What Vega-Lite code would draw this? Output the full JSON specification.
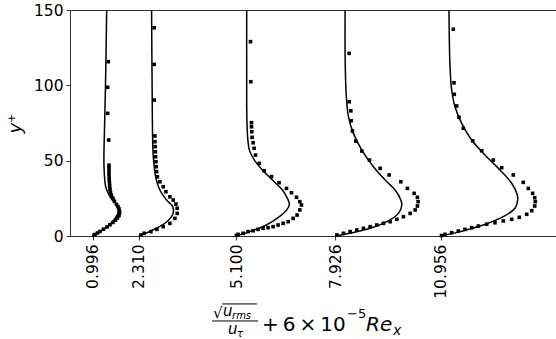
{
  "$schema": "https://vega.github.io/schema/vega-lite/v6.json",
  "width": 487,
  "height": 226,
  "autosize": {"type": "none"},
  "padding": {"left": 70, "top": 10, "right": 0, "bottom": 103},
  "background": "white",
  "config": {
    "font": "DejaVu Sans",
    "view": {"stroke": "#333", "strokeWidth": 1},
    "axis": {
      "domain": false,
      "grid": false,
      "tickColor": "#333",
      "tickSize": 4,
      "labelColor": "black",
      "labelFontSize": 15.5,
      "labelFont": "DejaVu Sans",
      "titleFont": "DejaVu Sans",
      "titleColor": "black"
    }
  },
  "datasets": {
    "model": [
      {"s": "1", "y": 0, "x": 0.996}, {"s": "1", "y": 5.1, "x": 1.339}, {"s": "1", "y": 11.7, "x": 1.626}, {"s": "1", "y": 16.1, "x": 1.72}, {"s": "1", "y": 20.6, "x": 1.674}, {"s": "1", "y": 24.4, "x": 1.531}, {"s": "1", "y": 28.3, "x": 1.434}, {"s": "1", "y": 32.7, "x": 1.359}, {"s": "1", "y": 46, "x": 1.311}, {"s": "1", "y": 57, "x": 1.311}, {"s": "1", "y": 100, "x": 1.354}, {"s": "1", "y": 150, "x": 1.388},
      {"s": "2", "y": 0, "x": 2.31}, {"s": "2", "y": 4, "x": 2.71}, {"s": "2", "y": 9.5, "x": 3.11}, {"s": "2", "y": 15, "x": 3.29}, {"s": "2", "y": 19.4, "x": 3.28}, {"s": "2", "y": 23.9, "x": 3.103}, {"s": "2", "y": 30.5, "x": 2.911}, {"s": "2", "y": 39.4, "x": 2.788}, {"s": "2", "y": 48, "x": 2.739}, {"s": "2", "y": 57, "x": 2.711}, {"s": "2", "y": 100, "x": 2.688}, {"s": "2", "y": 150, "x": 2.673},
      {"s": "3", "y": 0, "x": 5.1}, {"s": "3", "y": 2.9, "x": 5.472}, {"s": "3", "y": 7.3, "x": 5.959}, {"s": "3", "y": 12.8, "x": 6.331}, {"s": "3", "y": 17, "x": 6.531}, {"s": "3", "y": 21, "x": 6.617}, {"s": "3", "y": 25, "x": 6.56}, {"s": "3", "y": 30.5, "x": 6.417}, {"s": "3", "y": 37.2, "x": 6.13}, {"s": "3", "y": 43.8, "x": 5.844}, {"s": "3", "y": 50.4, "x": 5.615}, {"s": "3", "y": 57, "x": 5.472}, {"s": "3", "y": 63.7, "x": 5.429}, {"s": "3", "y": 77, "x": 5.401}, {"s": "3", "y": 101, "x": 5.395}, {"s": "3", "y": 150, "x": 5.395},
      {"s": "4", "y": 0, "x": 7.926}, {"s": "4", "y": 1.8, "x": 8.355}, {"s": "4", "y": 5.1, "x": 8.928}, {"s": "4", "y": 9.5, "x": 9.406}, {"s": "4", "y": 15, "x": 9.738}, {"s": "4", "y": 20.6, "x": 9.835}, {"s": "4", "y": 23.9, "x": 9.806}, {"s": "4", "y": 30.5, "x": 9.643}, {"s": "4", "y": 37.2, "x": 9.357}, {"s": "4", "y": 46, "x": 9.022}, {"s": "4", "y": 57, "x": 8.69}, {"s": "4", "y": 68.1, "x": 8.45}, {"s": "4", "y": 79.2, "x": 8.307}, {"s": "4", "y": 94.7, "x": 8.241}, {"s": "4", "y": 120, "x": 8.212}, {"s": "4", "y": 150, "x": 8.212},
      {"s": "5", "y": 0, "x": 10.956}, {"s": "5", "y": 2.9, "x": 11.5}, {"s": "5", "y": 7.3, "x": 12.166}, {"s": "5", "y": 12.8, "x": 12.739}, {"s": "5", "y": 18.4, "x": 13.074}, {"s": "5", "y": 23.9, "x": 13.151}, {"s": "5", "y": 27.2, "x": 13.14}, {"s": "5", "y": 35, "x": 12.979}, {"s": "5", "y": 43.8, "x": 12.645}, {"s": "5", "y": 53.7, "x": 12.215}, {"s": "5", "y": 63.7, "x": 11.835}, {"s": "5", "y": 74.8, "x": 11.548}, {"s": "5", "y": 85.8, "x": 11.357}, {"s": "5", "y": 96.9, "x": 11.262}, {"s": "5", "y": 112.3, "x": 11.214}, {"s": "5", "y": 150, "x": 11.185}
    ],
    "measured": [
      {"s": "1", "y": 115.7, "x": 1.434}, {"s": "1", "y": 98.7, "x": 1.417}, {"s": "1", "y": 81.4, "x": 1.417}, {"s": "1", "y": 63.7, "x": 1.445}, {"s": "1", "y": 47, "x": 1.454}, {"s": "1", "y": 45, "x": 1.454}, {"s": "1", "y": 43, "x": 1.454}, {"s": "1", "y": 41, "x": 1.454}, {"s": "1", "y": 39, "x": 1.46}, {"s": "1", "y": 37, "x": 1.462}, {"s": "1", "y": 35, "x": 1.468}, {"s": "1", "y": 33, "x": 1.474}, {"s": "1", "y": 31, "x": 1.483}, {"s": "1", "y": 29, "x": 1.497}, {"s": "1", "y": 27, "x": 1.525}, {"s": "1", "y": 25, "x": 1.568}, {"s": "1", "y": 23, "x": 1.611}, {"s": "1", "y": 21, "x": 1.669}, {"s": "1", "y": 19.5, "x": 1.712}, {"s": "1", "y": 18, "x": 1.74}, {"s": "1", "y": 16.5, "x": 1.754}, {"s": "1", "y": 15, "x": 1.754}, {"s": "1", "y": 13.5, "x": 1.74}, {"s": "1", "y": 12, "x": 1.697}, {"s": "1", "y": 10.5, "x": 1.64}, {"s": "1", "y": 9, "x": 1.568}, {"s": "1", "y": 7.5, "x": 1.483}, {"s": "1", "y": 6, "x": 1.397}, {"s": "1", "y": 4.5, "x": 1.297}, {"s": "1", "y": 3, "x": 1.196}, {"s": "1", "y": 2, "x": 1.125}, {"s": "1", "y": 1, "x": 1.053}, {"s": "1", "y": 0.5, "x": 1.025},
      {"s": "2", "y": 138.2, "x": 2.748}, {"s": "2", "y": 113.9, "x": 2.748}, {"s": "2", "y": 90.2, "x": 2.748}, {"s": "2", "y": 66.4, "x": 2.768}, {"s": "2", "y": 62.6, "x": 2.768}, {"s": "2", "y": 59.3, "x": 2.777}, {"s": "2", "y": 55.9, "x": 2.782}, {"s": "2", "y": 52.6, "x": 2.788}, {"s": "2", "y": 49.3, "x": 2.797}, {"s": "2", "y": 46, "x": 2.805}, {"s": "2", "y": 42.7, "x": 2.817}, {"s": "2", "y": 39.3, "x": 2.839}, {"s": "2", "y": 36, "x": 2.911}, {"s": "2", "y": 32.7, "x": 3.005}, {"s": "2", "y": 29.4, "x": 3.083}, {"s": "2", "y": 26, "x": 3.197}, {"s": "2", "y": 23.9, "x": 3.292}, {"s": "2", "y": 21.2, "x": 3.369}, {"s": "2", "y": 18.4, "x": 3.406}, {"s": "2", "y": 15, "x": 3.406}, {"s": "2", "y": 11.7, "x": 3.34}, {"s": "2", "y": 8.4, "x": 3.197}, {"s": "2", "y": 6.2, "x": 3.005}, {"s": "2", "y": 4.4, "x": 2.825}, {"s": "2", "y": 2.9, "x": 2.653}, {"s": "2", "y": 1.8, "x": 2.462}, {"s": "2", "y": 0.7, "x": 2.367},
      {"s": "3", "y": 129, "x": 5.504}, {"s": "3", "y": 102.4, "x": 5.512}, {"s": "3", "y": 75.2, "x": 5.532}, {"s": "3", "y": 72.5, "x": 5.532}, {"s": "3", "y": 69.2, "x": 5.541}, {"s": "3", "y": 65.5, "x": 5.549}, {"s": "3", "y": 61.9, "x": 5.578}, {"s": "3", "y": 58.2, "x": 5.607}, {"s": "3", "y": 53.7, "x": 5.647}, {"s": "3", "y": 48.2, "x": 5.75}, {"s": "3", "y": 43.3, "x": 5.893}, {"s": "3", "y": 39.4, "x": 6.105}, {"s": "3", "y": 35.4, "x": 6.322}, {"s": "3", "y": 31.6, "x": 6.534}, {"s": "3", "y": 28.7, "x": 6.677}, {"s": "3", "y": 25.7, "x": 6.82}, {"s": "3", "y": 22.8, "x": 6.915}, {"s": "3", "y": 20.6, "x": 6.963}, {"s": "3", "y": 17.3, "x": 6.915}, {"s": "3", "y": 13.9, "x": 6.837}, {"s": "3", "y": 11.7, "x": 6.723}, {"s": "3", "y": 9.5, "x": 6.58}, {"s": "3", "y": 8.4, "x": 6.437}, {"s": "3", "y": 7.3, "x": 6.293}, {"s": "3", "y": 6.2, "x": 6.15}, {"s": "3", "y": 5.5, "x": 6.007}, {"s": "3", "y": 5.1, "x": 5.864}, {"s": "3", "y": 4.4, "x": 5.721}, {"s": "3", "y": 3.5, "x": 5.578}, {"s": "3", "y": 2.9, "x": 5.435}, {"s": "3", "y": 1.8, "x": 5.292}, {"s": "3", "y": 1.1, "x": 5.149}, {"s": "3", "y": 0.4, "x": 5.1},
      {"s": "4", "y": 121.2, "x": 8.327}, {"s": "4", "y": 89.1, "x": 8.327}, {"s": "4", "y": 83.1, "x": 8.375}, {"s": "4", "y": 76.5, "x": 8.384}, {"s": "4", "y": 69.7, "x": 8.421}, {"s": "4", "y": 63, "x": 8.518}, {"s": "4", "y": 56.4, "x": 8.69}, {"s": "4", "y": 50.4, "x": 8.908}, {"s": "4", "y": 44.9, "x": 9.214}, {"s": "4", "y": 40.5, "x": 9.471}, {"s": "4", "y": 36, "x": 9.806}, {"s": "4", "y": 31.6, "x": 9.995}, {"s": "4", "y": 28.3, "x": 10.187}, {"s": "4", "y": 25.7, "x": 10.281}, {"s": "4", "y": 22.8, "x": 10.301}, {"s": "4", "y": 19.9, "x": 10.281}, {"s": "4", "y": 17.3, "x": 10.216}, {"s": "4", "y": 15, "x": 10.073}, {"s": "4", "y": 12.8, "x": 9.881}, {"s": "4", "y": 11.1, "x": 9.692}, {"s": "4", "y": 9.5, "x": 9.5}, {"s": "4", "y": 8.4, "x": 9.308}, {"s": "4", "y": 7.3, "x": 9.119}, {"s": "4", "y": 6.2, "x": 8.928}, {"s": "4", "y": 5.1, "x": 8.736}, {"s": "4", "y": 4, "x": 8.547}, {"s": "4", "y": 2.9, "x": 8.355}, {"s": "4", "y": 1.8, "x": 8.164}, {"s": "4", "y": 0.7, "x": 7.975},
      {"s": "5", "y": 137.2, "x": 11.308}, {"s": "5", "y": 101.7, "x": 11.328}, {"s": "5", "y": 94, "x": 11.337}, {"s": "5", "y": 86.3, "x": 11.405}, {"s": "5", "y": 78.8, "x": 11.471}, {"s": "5", "y": 71.5, "x": 11.594}, {"s": "5", "y": 63.2, "x": 11.863}, {"s": "5", "y": 56.6, "x": 12.121}, {"s": "5", "y": 50.4, "x": 12.453}, {"s": "5", "y": 45.3, "x": 12.693}, {"s": "5", "y": 40.5, "x": 13.025}, {"s": "5", "y": 35.6, "x": 13.311}, {"s": "5", "y": 31.6, "x": 13.455}, {"s": "5", "y": 28.3, "x": 13.58}, {"s": "5", "y": 25.4, "x": 13.638}, {"s": "5", "y": 22.8, "x": 13.655}, {"s": "5", "y": 19.9, "x": 13.638}, {"s": "5", "y": 16.8, "x": 13.552}, {"s": "5", "y": 14.4, "x": 13.409}, {"s": "5", "y": 12.4, "x": 13.197}, {"s": "5", "y": 11.1, "x": 12.979}, {"s": "5", "y": 10, "x": 12.739}, {"s": "5", "y": 8.8, "x": 12.501}, {"s": "5", "y": 7.8, "x": 12.264}, {"s": "5", "y": 6.6, "x": 12.024}, {"s": "5", "y": 5.5, "x": 11.835}, {"s": "5", "y": 4.4, "x": 11.643}, {"s": "5", "y": 3.3, "x": 11.451}, {"s": "5", "y": 2.2, "x": 11.262}, {"s": "5", "y": 1.1, "x": 11.07}, {"s": "5", "y": 0.3, "x": 10.97}
    ],
    "one": [{}]
  },
  "layer": [
    {
      "data": {"name": "model"},
      "mark": {"type": "line", "color": "black", "strokeWidth": 1.5, "interpolate": "catmull-rom"},
      "encoding": {
        "x": {
          "field": "x", "type": "quantitative",
          "scale": {"domain": [0.338, 14.276], "nice": false, "zero": false},
          "axis": {
            "values": [0.996, 2.31, 5.1, 7.926, 10.956],
            "format": ".3f",
            "labelAngle": -90,
            "labelPadding": 4,
            "title": null
          }
        },
        "y": {
          "field": "y", "type": "quantitative",
          "scale": {"domain": [0, 150], "nice": false},
          "axis": {
            "values": [0, 50, 100, 150],
            "labelPadding": 3,
            "title": "y⁺",
            "titleFontSize": 18,
            "titleFontWeight": "normal",
            "titleFontStyle": "italic",
            "titlePadding": 9
          }
        },
        "detail": {"field": "s"},
        "order": {"field": "y", "type": "quantitative"}
      }
    },
    {
      "data": {"name": "measured"},
      "mark": {"type": "square", "color": "black", "filled": true, "opacity": 1, "size": 13},
      "encoding": {
        "x": {"field": "x", "type": "quantitative"},
        "y": {"field": "y", "type": "quantitative"}
      }
    },
    {
      "data": {"name": "one"},
      "mark": {"type": "text", "text": "√", "fontSize": 15, "align": "left", "baseline": "alphabetic", "color": "black"},
      "encoding": {"x": {"datum": 4.431}, "y": {"datum": -54.4}}
    },
    {
      "data": {"name": "one"},
      "mark": {"type": "rule", "color": "black", "strokeWidth": 1},
      "encoding": {"x": {"datum": 4.69}, "x2": {"datum": 5.69}, "y": {"datum": -45.1}}
    },
    {
      "data": {"name": "one"},
      "mark": {"type": "text", "text": "u", "fontSize": 15, "fontStyle": "italic", "align": "left", "baseline": "alphabetic", "color": "black"},
      "encoding": {"x": {"datum": 4.717}, "y": {"datum": -53.1}}
    },
    {
      "data": {"name": "one"},
      "mark": {"type": "text", "text": "rms", "fontSize": 10, "fontStyle": "italic", "align": "left", "baseline": "alphabetic", "color": "black"},
      "encoding": {"x": {"datum": 4.975}, "y": {"datum": -55.1}}
    },
    {
      "data": {"name": "one"},
      "mark": {"type": "rule", "color": "black", "strokeWidth": 1},
      "encoding": {"x": {"datum": 4.402}, "x2": {"datum": 5.719}, "y": {"datum": -56.4}}
    },
    {
      "data": {"name": "one"},
      "mark": {"type": "text", "text": "u", "fontSize": 15, "fontStyle": "italic", "align": "left", "baseline": "alphabetic", "color": "black"},
      "encoding": {"x": {"datum": 4.86}, "y": {"datum": -65.0}}
    },
    {
      "data": {"name": "one"},
      "mark": {"type": "text", "text": "τ", "fontSize": 10, "fontStyle": "italic", "align": "left", "baseline": "alphabetic", "color": "black"},
      "encoding": {"x": {"datum": 5.118}, "y": {"datum": -67.0}}
    },
    {
      "data": {"name": "one"},
      "mark": {"type": "text", "text": "+\u20096\u2009×\u200910", "fontSize": 20, "align": "left", "baseline": "alphabetic", "color": "black"},
      "encoding": {"x": {"datum": 5.833}, "y": {"datum": -63.0}}
    },
    {
      "data": {"name": "one"},
      "mark": {"type": "text", "text": "−5", "fontSize": 13, "align": "left", "baseline": "alphabetic", "color": "black"},
      "encoding": {"x": {"datum": 8.266}, "y": {"datum": -54.4}}
    },
    {
      "data": {"name": "one"},
      "mark": {"type": "text", "text": "Re", "fontSize": 20, "fontStyle": "italic", "align": "left", "baseline": "alphabetic", "color": "black"},
      "encoding": {"x": {"datum": 8.81}, "y": {"datum": -63.0}}
    },
    {
      "data": {"name": "one"},
      "mark": {"type": "text", "text": "x", "fontSize": 14, "fontStyle": "italic", "align": "left", "baseline": "alphabetic", "color": "black"},
      "encoding": {"x": {"datum": 9.583}, "y": {"datum": -65.7}}
    }
  ]
}
